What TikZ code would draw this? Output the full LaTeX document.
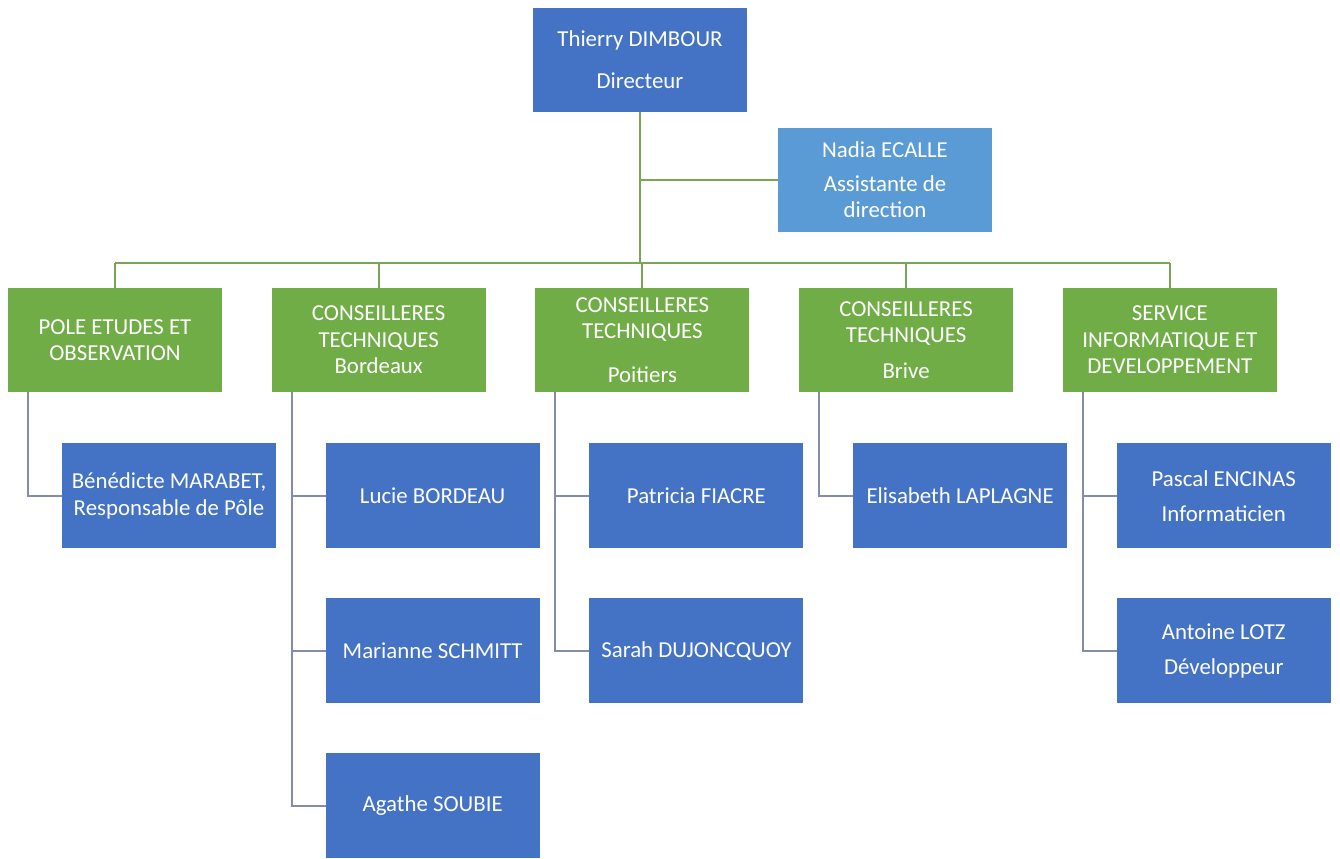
\documentclass[tikz,border=0pt]{standalone}
\usepackage{fontspec}
\setmainfont{Carlito}
\usetikzlibrary{positioning}
\definecolor{headblue}{RGB}{68,114,196}
\definecolor{assistblue}{RGB}{91,155,213}
\definecolor{unitgreen}{RGB}{112,173,71}
\definecolor{greenlink}{RGB}{122,164,86}
\definecolor{greylink}{RGB}{132,140,170}
\begin{document}
\begin{tikzpicture}[x=0.02cm, y=-0.02cm, line width=1.1pt,
    box/.style={minimum width=4.28cm, minimum height=2.1cm, inner sep=1pt, outer sep=0pt, align=center, text=white, font=\fontsize{13}{15}\selectfont},
    person/.style={box, fill=headblue},
    assist/.style={box, fill=assistblue},
    unit/.style={box, fill=unitgreen},
    uplink/.style={draw=greenlink},
    downlink/.style={draw=greylink}]
    \useasboundingbox (0,0) rectangle (1340,859);

    % Nodes
    \node[person] (dir) at (640,60) {Thierry DIMBOUR\\[9pt]Directeur};
    \node[assist] (ass) at (885,180) {Nadia ECALLE\\[4pt]Assistante de\\direction};
    \coordinate (bus) at (640,263);

    \node[unit] (etudes) at (115,340) {POLE ETUDES ET\\OBSERVATION};
    \node[unit, right=0.995cm of etudes] (bordeaux) {CONSEILLERES\\TECHNIQUES\\Bordeaux};
    \node[unit, right=0.995cm of bordeaux] (poitiers) {CONSEILLERES\\TECHNIQUES\\[10pt]Poitiers};
    \node[unit, right=0.995cm of poitiers] (brive) {CONSEILLERES\\TECHNIQUES\\[5pt]Brive};
    \node[unit, right=0.995cm of brive] (info) {SERVICE\\INFORMATIQUE ET\\DEVELOPPEMENT};

    \node[person, below right=1.02cm and 1.08cm of etudes.south west] (marabet) {Bénédicte MARABET,\\Responsable de Pôle};
    \node[person, below right=1.02cm and 1.08cm of bordeaux.south west] (bordeau) {Lucie BORDEAU};
    \node[person, below=1cm of bordeau] (schmitt) {Marianne SCHMITT};
    \node[person, below=1cm of schmitt] (soubie) {Agathe SOUBIE};
    \node[person, below right=1.02cm and 1.08cm of poitiers.south west] (fiacre) {Patricia FIACRE};
    \node[person, below=1cm of fiacre] (dujoncquoy) {Sarah DUJONCQUOY};
    \node[person, below right=1.02cm and 1.08cm of brive.south west] (laplagne) {Elisabeth LAPLAGNE};
    \node[person, below right=1.02cm and 1.08cm of info.south west] (encinas) {Pascal ENCINAS\\[5pt]Informaticien};
    \node[person, below=1cm of encinas] (lotz) {Antoine LOTZ\\[5pt]Développeur};

    % Lines
    \draw[uplink] (dir.south) -- (bus);
    \draw[uplink] (dir.south |- ass.west) -- (ass.west);
    \draw[uplink] (etudes.north |- bus) -- (info.north |- bus);
    \draw[uplink] (etudes.north) -- (etudes.north |- bus);
    \draw[uplink] (bordeaux.north) -- (bordeaux.north |- bus);
    \draw[uplink] (poitiers.north) -- (poitiers.north |- bus);
    \draw[uplink] (brive.north) -- (brive.north |- bus);
    \draw[uplink] (info.north) -- (info.north |- bus);

    \draw[downlink] ([xshift=0.4cm]etudes.south west) |- (marabet.west);
    \draw[downlink] ([xshift=0.4cm]bordeaux.south west) |- (bordeau.west);
    \draw[downlink] ([xshift=0.4cm]bordeaux.south west) |- (schmitt.west);
    \draw[downlink] ([xshift=0.4cm]bordeaux.south west) |- (soubie.west);
    \draw[downlink] ([xshift=0.4cm]poitiers.south west) |- (fiacre.west);
    \draw[downlink] ([xshift=0.4cm]poitiers.south west) |- (dujoncquoy.west);
    \draw[downlink] ([xshift=0.4cm]brive.south west) |- (laplagne.west);
    \draw[downlink] ([xshift=0.4cm]info.south west) |- (encinas.west);
    \draw[downlink] ([xshift=0.4cm]info.south west) |- (lotz.west);
\end{tikzpicture}
\end{document}
